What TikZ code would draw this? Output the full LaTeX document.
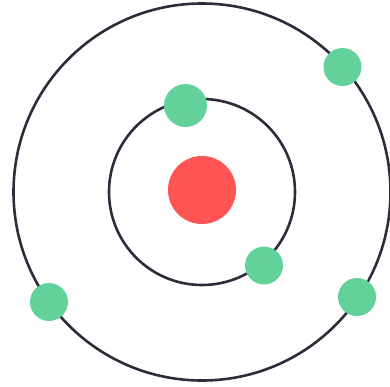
\documentclass[tikz,border=0pt]{standalone}
\usepackage{xcolor}
\usepackage{tikz}
\definecolor{orbitgray}{HTML}{2E2C3A}
\definecolor{corered}{HTML}{FF5454}
\definecolor{atomgreen}{HTML}{62D29A}

\begin{document}
\begin{tikzpicture}[x=1pt,y=-1pt]
\useasboundingbox (0,0) rectangle (390,386);
\draw[line width=2.6pt, orbitgray] (202,192) circle (188.5pt);
\draw[line width=2.6pt, orbitgray] (202,192) circle (93pt);
\fill[corered] (202,190) circle (34pt);
\fill[atomgreen] (185.5,105.5) circle (21.5pt);
\fill[atomgreen] (264,265.5) circle (19pt);
\fill[atomgreen] (342.5,67) circle (19pt);
\fill[atomgreen] (49,302) circle (19pt);
\fill[atomgreen] (357,297) circle (19pt);
\end{tikzpicture}
\end{document}
